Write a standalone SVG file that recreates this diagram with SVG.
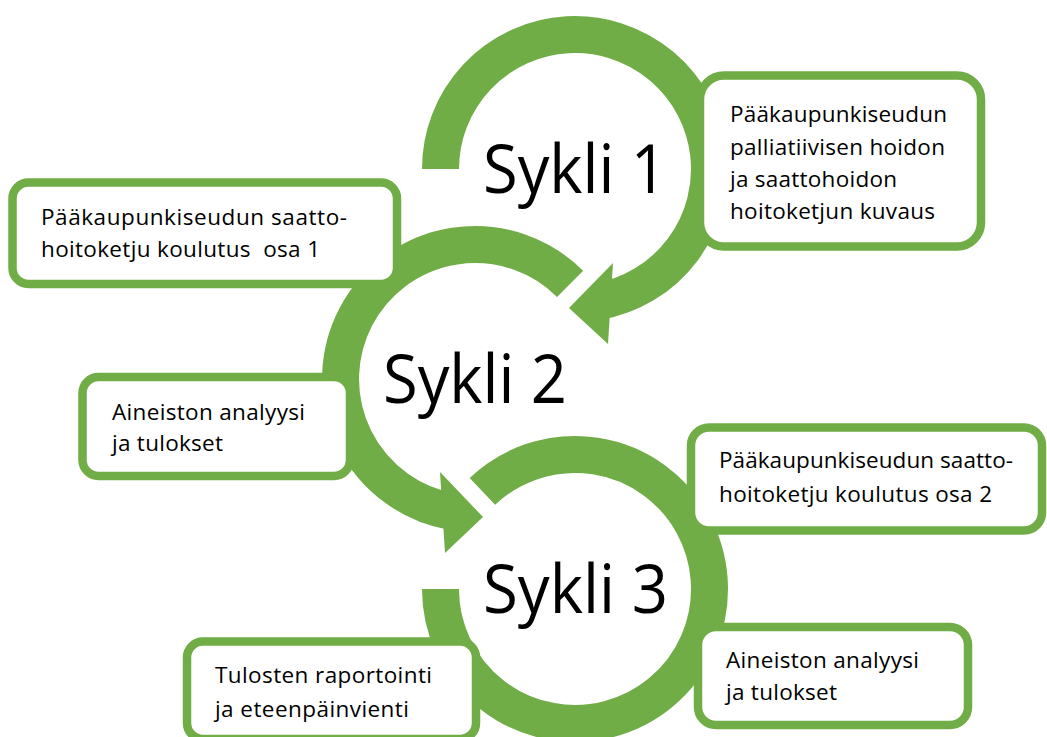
<svg xmlns="http://www.w3.org/2000/svg" width="1047" height="737" viewBox="0 0 1047 737">
<style>
.ring{fill:none;stroke:#70AD47;stroke-width:37;stroke-linecap:butt}
.head{fill:#70AD47;stroke:none}
.box{fill:#FFFFFF;stroke:#70AD47;stroke-width:8.5}
.t{font-family:"Open Sans","Noto Sans","Liberation Sans",sans-serif;font-size:22.5px;fill:#000000}
.big{font-family:"Open Sans","Noto Sans","Liberation Sans",sans-serif;font-size:67px;fill:#000000}
</style>
<rect width="1047" height="737" fill="#FFFFFF"/>
<g id="connectors">
<path class="ring" d="M440.5,169 A134.5,134.5 0 1 1 598.4,301.5"/>
<polygon class="head" points="613,263 569,308 608,344"/>
<path class="ring" d="M570.1,283.9 A134.5,134.5 0 1 0 451.6,511.5"/>
<polygon class="head" points="440,472 483,517 445,553"/>
<path class="ring" d="M482.4,491.4 A134.5,134.5 0 1 1 440.5,589"/>
</g>
<g id="sykli1"><text class="big" x="483" y="193" textLength="184" lengthAdjust="spacingAndGlyphs">Sykli 1</text></g>
<g id="sykli2"><text class="big" x="383" y="403" textLength="184" lengthAdjust="spacingAndGlyphs">Sykli 2</text></g>
<g id="sykli3"><text class="big" x="483" y="613" textLength="185" lengthAdjust="spacingAndGlyphs">Sykli 3</text></g>
<g id="box-kuvaus">
<rect class="box" x="700" y="75.5" width="281" height="171" rx="24"/>
<text class="t" x="730" y="122" textLength="217">Pääkaupunkiseudun</text>
<text class="t" x="730" y="155" textLength="215">palliatiivisen hoidon</text>
<text class="t" x="730" y="187" textLength="167">ja saattohoidon</text>
<text class="t" x="730" y="219" textLength="205">hoitoketjun kuvaus</text>
</g>
<g id="box-koulutus1">
<rect class="box" x="12.5" y="182.5" width="384.5" height="101.5" rx="16"/>
<text class="t" x="41" y="225" textLength="306">Pääkaupunkiseudun saatto-</text>
<text class="t" x="41" y="257" textLength="279" xml:space="preserve">hoitoketju koulutus  osa 1</text>
</g>
<g id="box-analyysi1">
<rect class="box" x="82.5" y="377" width="267.5" height="99" rx="16"/>
<text class="t" x="112" y="420" textLength="193">Aineiston analyysi</text>
<text class="t" x="112" y="451" textLength="111">ja tulokset</text>
</g>
<g id="box-koulutus2">
<rect class="box" x="691" y="427.5" width="351" height="103" rx="18"/>
<text class="t" x="719" y="468" textLength="294">Pääkaupunkiseudun saatto-</text>
<text class="t" x="719" y="502" textLength="273">hoitoketju koulutus osa 2</text>
</g>
<g id="box-raportointi">
<rect class="box" x="187" y="641.5" width="289" height="97.5" rx="16"/>
<text class="t" x="215" y="683" textLength="217">Tulosten raportointi</text>
<text class="t" x="215" y="717" textLength="194">ja eteenpäinvienti</text>
</g>
<g id="box-analyysi2">
<rect class="box" x="698" y="627" width="270" height="98" rx="18"/>
<text class="t" x="726" y="668" textLength="193">Aineiston analyysi</text>
<text class="t" x="726" y="700" textLength="111">ja tulokset</text>
</g>
</svg>
